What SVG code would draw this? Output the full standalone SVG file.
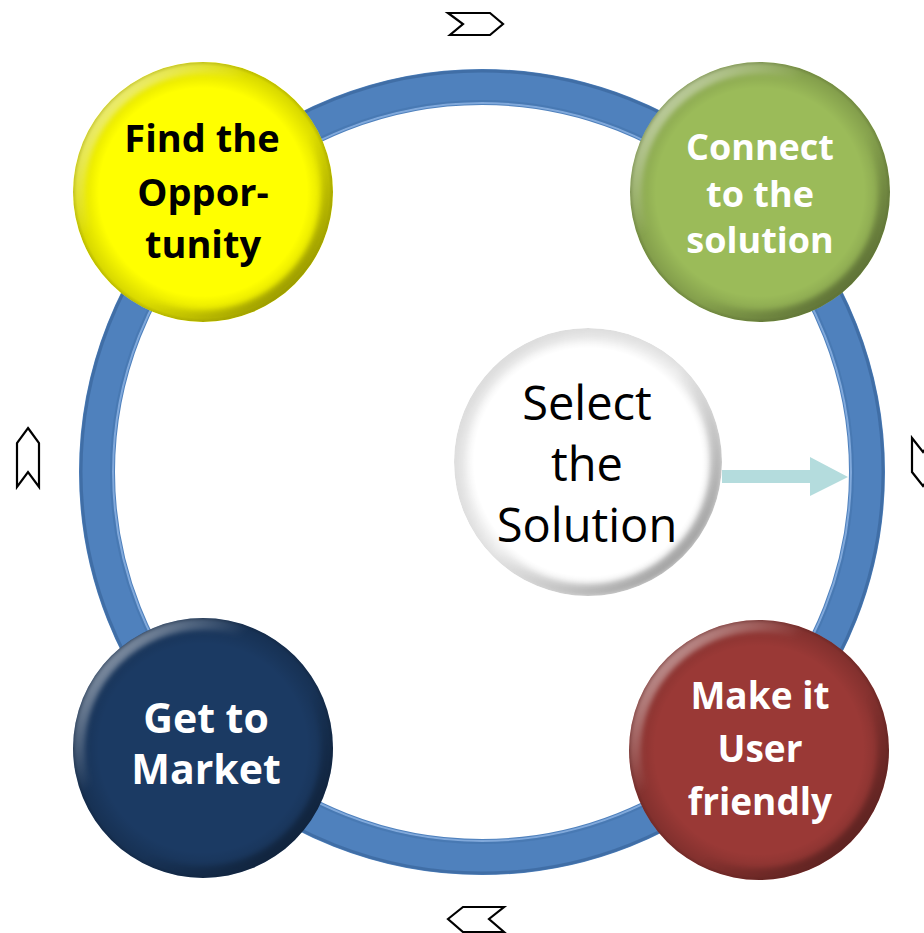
<svg xmlns="http://www.w3.org/2000/svg" width="924" height="933" viewBox="0 0 924 933">
  <style>
    .lbl { font-family: "Open Sans", "Liberation Sans", sans-serif; font-weight: 700; text-anchor: middle; }
    .dark { fill: #000000; }
    .light { fill: #ffffff; }
    .center { font-family: "Open Sans", "Liberation Sans", sans-serif; font-weight: 400; text-anchor: middle; fill: #000000; font-size: 47px; }
    .chev { fill: #ffffff; stroke: #000000; stroke-width: 2.2; stroke-linejoin: miter; }
  </style>
  <defs>
    <radialGradient id="edgeShade" cx="0.5" cy="0.5" r="0.5">
      <stop offset="0.8" stop-color="#000" stop-opacity="0"/>
      <stop offset="0.97" stop-color="#000" stop-opacity="0.15"/>
      <stop offset="1" stop-color="#000" stop-opacity="0.28"/>
    </radialGradient>
    <radialGradient id="edgeShadeWhite" cx="0.5" cy="0.5" r="0.5">
      <stop offset="0.85" stop-color="#000" stop-opacity="0"/>
      <stop offset="1" stop-color="#000" stop-opacity="0.12"/>
    </radialGradient>
    <linearGradient id="rim" x1="0" y1="0" x2="1" y2="1">
      <stop offset="0" stop-color="#fff" stop-opacity="0.7"/>
      <stop offset="0.35" stop-color="#fff" stop-opacity="0"/>
      <stop offset="0.6" stop-color="#000" stop-opacity="0"/>
      <stop offset="1" stop-color="#000" stop-opacity="0.42"/>
    </linearGradient>
    <linearGradient id="rimWhite" x1="0" y1="0" x2="1" y2="1">
      <stop offset="0" stop-color="#000" stop-opacity="0.05"/>
      <stop offset="0.5" stop-color="#000" stop-opacity="0"/>
      <stop offset="1" stop-color="#000" stop-opacity="0.4"/>
    </linearGradient>
    <filter id="soft" x="-10%" y="-10%" width="120%" height="120%">
      <feGaussianBlur stdDeviation="2.5"/>
    </filter>
    <clipPath id="cFind"><circle cx="203" cy="192" r="130"/></clipPath>
    <clipPath id="cConnect"><circle cx="760" cy="192" r="130"/></clipPath>
    <clipPath id="cMake"><circle cx="759" cy="750" r="130"/></clipPath>
    <clipPath id="cMarket"><circle cx="203" cy="748" r="130"/></clipPath>
    <clipPath id="cSelect"><circle cx="588" cy="462" r="134"/></clipPath>
  </defs>

  <rect width="924" height="933" fill="#ffffff"/>

  <!-- cycle ring, flow arrow and direction chevrons -->
  <g id="connectors">
    <circle cx="482" cy="472" r="385" fill="none" stroke="#4f81bd" stroke-width="36"/>
    <circle cx="482" cy="472" r="401" fill="none" stroke="#3b679c" stroke-width="3" opacity="0.7"/>
    <circle cx="482" cy="472" r="369" fill="none" stroke="#8db3e2" stroke-width="2" opacity="0.8"/>
    <circle cx="482" cy="472" r="371" fill="none" stroke="#3f6ea6" stroke-width="2" opacity="0.4"/>

    <polygon points="722,470 810,470 810,457 848,477 810,496 810,483 722,483" fill="#b4dcdd"/>

    <polygon class="chev" points="448,13 490,13 503,24 490,35 450,35 463,24"/>
    <polygon class="chev" points="28,428 39,443 39,487 28,472 17,487 17,443"/>
    <polygon class="chev" points="912,438 923,452 934,438 934,472 923,486 912,472"/>
    <polygon class="chev" points="448,919 463,907 504,907 489,919 504,932 463,932"/>
  </g>

  <g id="find-opportunity">
    <circle cx="203" cy="192" r="130" fill="#ffff00"/>
    <g clip-path="url(#cFind)">
      <circle cx="203" cy="192" r="130" fill="url(#edgeShade)"/>
      <circle cx="203" cy="192" r="124" fill="none" stroke="url(#rim)" stroke-width="12" filter="url(#soft)"/>
    </g>
    <text class="lbl dark" font-size="38" x="202" y="152">Find the</text>
    <text class="lbl dark" font-size="38" x="203" y="206">Oppor-</text>
    <text class="lbl dark" font-size="38" x="203" y="258">tunity</text>
  </g>

  <g id="connect-solution">
    <circle cx="760" cy="192" r="130" fill="#9bbb59"/>
    <g clip-path="url(#cConnect)">
      <circle cx="760" cy="192" r="130" fill="url(#edgeShade)"/>
      <circle cx="760" cy="192" r="124" fill="none" stroke="url(#rim)" stroke-width="12" filter="url(#soft)"/>
    </g>
    <text class="lbl light" font-size="36" x="760" y="160">Connect</text>
    <text class="lbl light" font-size="36" x="760" y="207">to the</text>
    <text class="lbl light" font-size="36" x="760" y="253">solution</text>
  </g>

  <g id="select-solution">
    <circle cx="588" cy="462" r="134" fill="#ffffff"/>
    <g clip-path="url(#cSelect)">
      <circle cx="588" cy="462" r="134" fill="url(#edgeShadeWhite)"/>
      <circle cx="588" cy="462" r="128" fill="none" stroke="url(#rimWhite)" stroke-width="12" filter="url(#soft)"/>
    </g>
    <text class="center" x="587" y="420">Select</text>
    <text class="center" x="587" y="481">the</text>
    <text class="center" x="587" y="542">Solution</text>
  </g>

  <g id="make-user-friendly">
    <circle cx="759" cy="750" r="130" fill="#9a3936"/>
    <g clip-path="url(#cMake)">
      <circle cx="759" cy="750" r="130" fill="url(#edgeShade)"/>
      <circle cx="759" cy="750" r="124" fill="none" stroke="url(#rim)" stroke-width="12" filter="url(#soft)"/>
    </g>
    <text class="lbl light" font-size="37" x="760" y="709">Make it</text>
    <text class="lbl light" font-size="37" x="760" y="762">User</text>
    <text class="lbl light" font-size="37" x="760" y="815">friendly</text>
  </g>

  <g id="get-to-market">
    <circle cx="203" cy="748" r="130" fill="#1b3a63"/>
    <g clip-path="url(#cMarket)">
      <circle cx="203" cy="748" r="130" fill="url(#edgeShade)"/>
      <circle cx="203" cy="748" r="124" fill="none" stroke="url(#rim)" stroke-width="12" filter="url(#soft)"/>
    </g>
    <text class="lbl light" font-size="41" x="206" y="733">Get to</text>
    <text class="lbl light" font-size="41" x="206" y="784">Market</text>
  </g>
</svg>
